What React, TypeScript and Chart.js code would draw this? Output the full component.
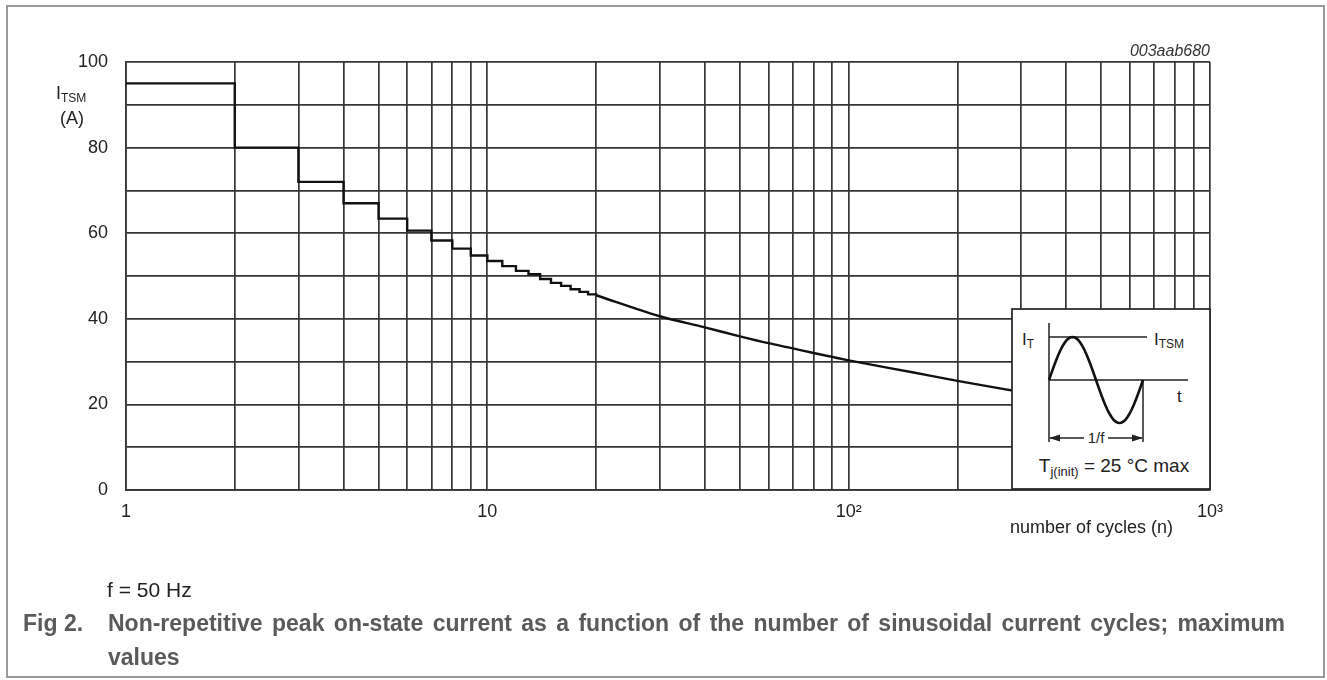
import React, { useEffect, useRef } from 'react';
import { Chart, registerables } from 'chart.js';

Chart.register(...registerables);

const FONT = '"Liberation Sans", Arial, Helvetica, sans-serif';

// staircase part: number of cycles (n) -> I_TSM (A)
const stepCycles = [1, 2, 3, 4, 5, 6, 7, 8, 9, 10, 11, 12, 13, 14, 15, 16, 17, 18, 19, 20];
const stepCurrent = [95, 80, 72, 67, 63.4, 60.6, 58.3, 56.4, 54.8, 53.5, 52.3, 51.2, 50.4, 49.3, 48.4, 47.7, 46.9, 46.3, 45.7, 45.5];

// smooth part
const curveCycles = [20, 30, 40, 50, 60, 70, 80, 90, 100, 150, 200, 300];
const curveCurrent = [45.5, 40.6, 38.0, 35.9, 34.3, 33.1, 32.0, 31.1, 30.3, 27.5, 25.5, 22.9];

// axes
const xGridValues = [1, 2, 3, 4, 5, 6, 7, 8, 9, 10, 20, 30, 40, 50, 60, 70, 80, 90, 100, 200, 300, 400, 500, 600, 700, 800, 900, 1000];
const xTickText: Record<number, string> = { 1: '1', 10: '10', 100: '10\u00B2', 1000: '10\u00B3' };
const yLabelled = [0, 20, 40, 60, 80, 100];

const GRID = '#363636';

export default function App() {
  const canvasRef = useRef<HTMLCanvasElement | null>(null);

  useEffect(() => {
    const canvas = canvasRef.current;
    if (!canvas) return;
    const chart = new Chart(canvas, {
      type: 'line',
      data: {
        datasets: [
          {
            data: stepCycles.map((x, i) => ({ x, y: stepCurrent[i] })),
            stepped: 'before',
            borderColor: '#111',
            borderWidth: 2.4,
            pointRadius: 0,
          },
          {
            data: curveCycles.map((x, i) => ({ x, y: curveCurrent[i] })),
            cubicInterpolationMode: 'monotone',
            borderColor: '#111',
            borderWidth: 2.4,
            pointRadius: 0,
          },
        ],
      },
      options: {
        animation: false,
        responsive: false,
        events: [],
        layout: { padding: { top: 62, right: 117, left: 0, bottom: 0 } },
        plugins: { legend: { display: false }, tooltip: { enabled: false } },
        scales: {
          x: {
            type: 'logarithmic',
            min: 1,
            max: 1000,
            afterBuildTicks: (s: any) => {
              s.ticks = xGridValues.map((v) => ({ value: v }));
            },
            afterFit: (s: any) => {
              s.height = 190;
            },
            ticks: {
              autoSkip: false,
              maxRotation: 0,
              minRotation: 0,
              padding: 11,
              color: '#222',
              font: { family: FONT, size: 18 },
              callback: (v: any) => xTickText[Number(v)] ?? '',
            },
            grid: { color: GRID, lineWidth: 1.7, drawTicks: false },
            border: { color: GRID, width: 1.7 },
          },
          y: {
            min: 0,
            max: 100,
            afterFit: (s: any) => {
              s.width = 126;
            },
            ticks: {
              stepSize: 10,
              padding: 18,
              color: '#222',
              font: { family: FONT, size: 18 },
              callback: (v: any) => (yLabelled.includes(Number(v)) ? String(v) : ''),
            },
            grid: { color: GRID, lineWidth: 1.7, drawTicks: false },
            border: { color: GRID, width: 1.7 },
          },
        },
      },
    } as any);
    return () => chart.destroy();
  }, []);

  const sinePts: string[] = [];
  for (let i = 0; i <= 60; i++) {
    const t = i / 60;
    sinePts.push(`${(1049 + 94 * t).toFixed(2)},${(380 - 43 * Math.sin(2 * Math.PI * t)).toFixed(2)}`);
  }

  const abs = (o: React.CSSProperties): React.CSSProperties => ({ position: 'absolute', whiteSpace: 'nowrap', ...o });

  return (
    <div style={{ position: 'absolute', left: 0, top: 0, width: 1327, height: 680, background: '#fff', fontFamily: FONT, overflow: 'hidden' }}>
      <canvas ref={canvasRef} width={1327} height={680} style={{ position: 'absolute', left: 0, top: 0 }} />
      <svg width={1327} height={680} style={{ position: 'absolute', left: 0, top: 0 }} fontFamily={FONT}>
        <rect x={7} y={6} width={1317} height={671} fill="none" stroke="#9a9a9a" strokeWidth={2} />
        {/* inset */}
        <rect x={1012} y={309} width={198} height={180} fill="#fff" stroke="#222" strokeWidth={1.7} />
        <line x1={1049} y1={323} x2={1049} y2={442} stroke="#222" strokeWidth={1.5} />
        <line x1={1049} y1={337} x2={1147} y2={337} stroke="#222" strokeWidth={1.5} />
        <line x1={1049} y1={380} x2={1188} y2={380} stroke="#222" strokeWidth={1.5} />
        <line x1={1143} y1={380} x2={1143} y2={442} stroke="#222" strokeWidth={1.5} />
        <polyline points={sinePts.join(' ')} fill="none" stroke="#111" strokeWidth={2.6} />
        <line x1={1050} y1={438} x2={1084} y2={438} stroke="#222" strokeWidth={1.5} />
        <line x1={1108} y1={438} x2={1142} y2={438} stroke="#222" strokeWidth={1.5} />
        <polygon points="1049,438 1060,434.5 1060,441.5" fill="#222" />
        <polygon points="1143,438 1132,434.5 1132,441.5" fill="#222" />
        <text x={1096} y={443} fontSize={15} textAnchor="middle" fill="#222">1/f</text>
        <text x={1022} y={345} fontSize={17} fill="#222">I<tspan fontSize={12} dy={3}>T</tspan></text>
        <text x={1154} y={345} fontSize={17} fill="#222">I<tspan fontSize={12} dy={3}>TSM</tspan></text>
        <text x={1177} y={402} fontSize={17} fill="#222">t</text>
        <text x={1114} y={472} fontSize={19} textAnchor="middle" fill="#222">T<tspan fontSize={13} dy={4}>j(init)</tspan><tspan dy={-4}> = 25 °C max</tspan></text>
      </svg>
      <div style={abs({ left: 56, top: 84, fontSize: 18, lineHeight: '18px', color: '#222' })}>
        I<span style={{ fontSize: 12, position: 'relative', top: 3 }}>TSM</span>
      </div>
      <div style={abs({ left: 60, top: 109, fontSize: 18, lineHeight: '18px', color: '#222' })}>(A)</div>
      <div style={abs({ right: 1327 - 1210, top: 43, fontSize: 16, lineHeight: '16px', fontStyle: 'italic', color: '#333' })}>003aab680</div>
      <div style={abs({ right: 1327 - 1173, top: 518, fontSize: 18, lineHeight: '18px', color: '#222' })}>number of cycles (n)</div>
      <div style={abs({ left: 107, top: 579, fontSize: 21, lineHeight: '21px', color: '#222' })}>f = 50 Hz</div>
      <div style={abs({ left: 23, top: 612, fontSize: 23, lineHeight: '23px', fontWeight: 'bold', color: '#5a5a5a' })}>Fig 2.</div>
      <div style={abs({ left: 108, top: 612, fontSize: 23, lineHeight: '23px', fontWeight: 'bold', color: '#5a5a5a', wordSpacing: 3 })}>
        Non-repetitive peak on-state current as a function of the number of sinusoidal current cycles; maximum
      </div>
      <div style={abs({ left: 108, top: 646, fontSize: 23, lineHeight: '23px', fontWeight: 'bold', color: '#5a5a5a' })}>values</div>
    </div>
  );
}
